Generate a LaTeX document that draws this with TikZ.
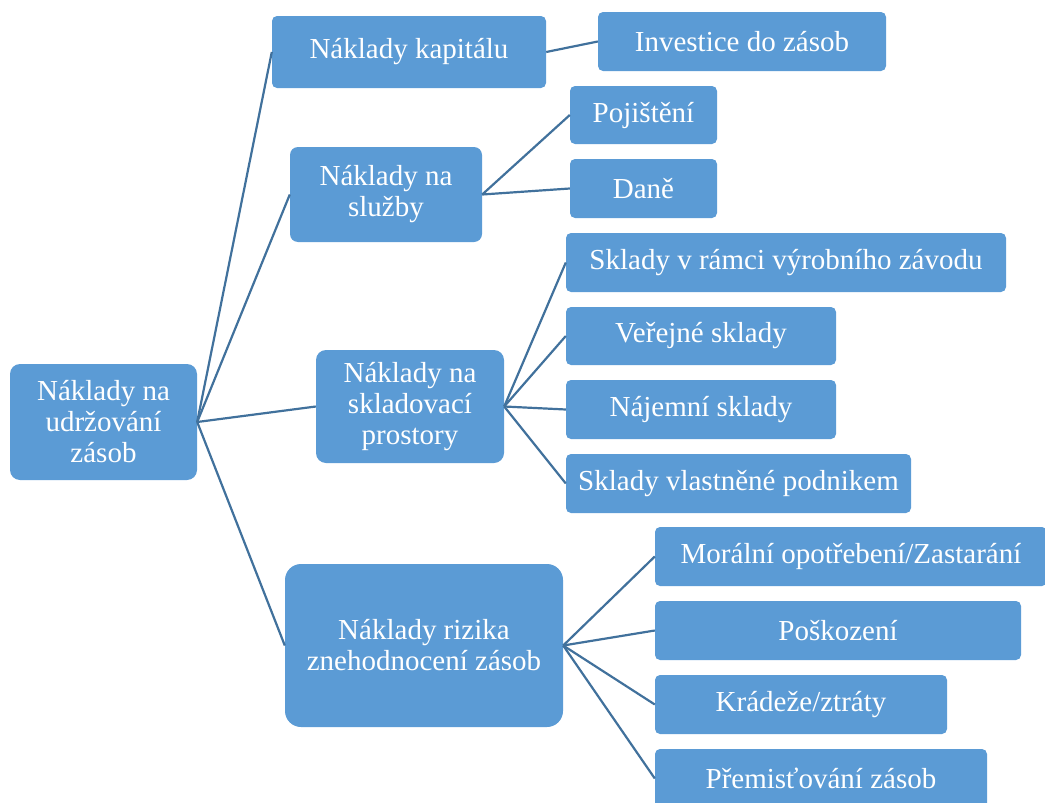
\documentclass[tikz,border=0pt]{standalone}
\usepackage{fontspec}
\setmainfont{Liberation Serif}
\usepackage{tikz}
\usetikzlibrary{positioning}
\definecolor{boxblue}{RGB}{91,155,213}
\definecolor{lineblue}{RGB}{65,113,156}

\begin{document}
\begin{tikzpicture}[
  x=1pt, y=-1pt,
  box/.style={fill=boxblue, draw=none, rounded corners=5pt, align=center,
              text=white, inner sep=0pt,
              font=\fontsize{29}{31}\selectfont},
  conn/.style={draw=lineblue, line width=2.2pt}
]
  \useasboundingbox (0,0) rectangle (1045,803);
  \clip (0,0) rectangle (1045,803);
  % root
  \node[box, rounded corners=10pt, minimum width=187pt, minimum height=116pt] (root) at (103.5,422) {Náklady na\\udržování\\zásob};
  % first level
  \node[box, minimum width=274pt, minimum height=72pt] (kap) at (409,52) {Náklady kapitálu};
  \node[box, rounded corners=8pt, minimum width=192pt, minimum height=95pt] (sluz) at (386,194.5) {Náklady na\\služby};
  \node[box, rounded corners=10pt, minimum width=188pt, minimum height=113pt] (sklad) at (410,406.5) {Náklady na\\skladovací\\prostory};
  \node[box, rounded corners=16pt, minimum width=278pt, minimum height=163pt] (riz) at (424,645.5) {Náklady rizika\\znehodnocení zásob};
  % second level
  \node[box, minimum width=288pt, minimum height=59pt] (inv) at (742,41.5) {Investice do zásob};
  \node[box, minimum width=147pt, minimum height=58pt] (poj) at (643.5,115) {Pojištění};
  \node[box, minimum width=147pt, minimum height=59pt] (dan) at (643.5,188.5) {Daně};
  \node[box, minimum width=440pt, minimum height=59pt] (s1) at (786,262.5) {Sklady v rámci výrobního závodu};
  \node[box, minimum width=270pt, minimum height=58pt] (s2) at (701,336) {Veřejné sklady};
  \node[box, minimum width=270pt, minimum height=59pt] (s3) at (701,409.5) {Nájemní sklady};
  \node[box, minimum width=345pt, minimum height=59pt] (s4) at (738.5,483.5) {Sklady vlastněné podnikem};
  \node[box, minimum width=392pt, minimum height=59pt] (r1) at (851,556.5) {Morální opotřebení/Zastarání};
  \node[box, minimum width=366pt, minimum height=59pt] (r2) at (838,630.5) {Poškození};
  \node[box, minimum width=292pt, minimum height=59pt] (r3) at (801,704.5) {Krádeže/ztráty};
  \node[box, minimum width=332pt, minimum height=59pt] (r4) at (821,778.5) {Přemisťování zásob};
  % connectors
  \foreach \c in {kap,sluz,sklad,riz}
    \draw[conn] (root.east) -- (\c.west);
  \draw[conn] (kap.east) -- (inv.west);
  \foreach \c in {poj,dan}
    \draw[conn] (sluz.east) -- (\c.west);
  \foreach \c in {s1,s2,s3,s4}
    \draw[conn] (sklad.east) -- (\c.west);
  \foreach \c in {r1,r2,r3,r4}
    \draw[conn] (riz.east) -- (\c.west);
\end{tikzpicture}
\end{document}
